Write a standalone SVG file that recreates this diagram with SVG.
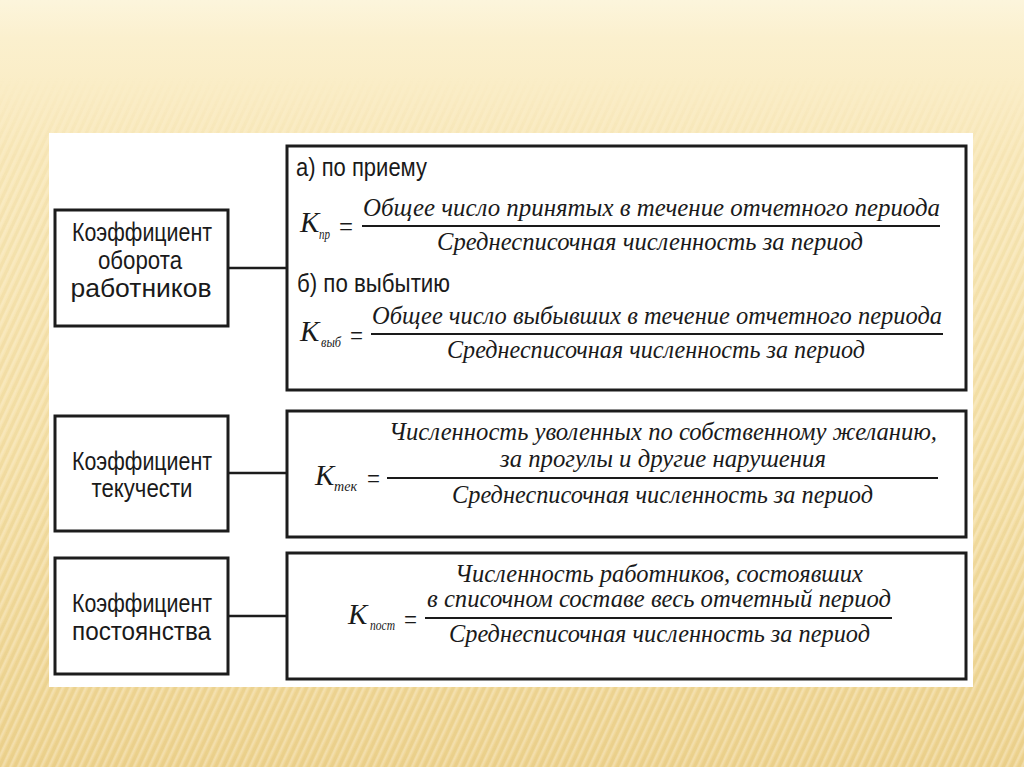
<svg xmlns="http://www.w3.org/2000/svg" width="1024" height="767" viewBox="0 0 1024 767">
<defs>
<linearGradient id="bg" x1="0" y1="0" x2="0" y2="1">
<stop offset="0" stop-color="#FCF5DC"/>
<stop offset="0.05" stop-color="#FBF0CE"/>
<stop offset="0.2" stop-color="#F9E9BC"/>
<stop offset="0.6" stop-color="#F6E2AC"/>
<stop offset="1" stop-color="#EFD594"/>
</linearGradient>
<linearGradient id="fade" x1="0" y1="0" x2="0" y2="1">
<stop offset="0" stop-color="#000"/>
<stop offset="0.1" stop-color="#000"/>
<stop offset="0.3" stop-color="#fff" stop-opacity="0.6"/>
<stop offset="1" stop-color="#fff"/>
</linearGradient>
<mask id="m"><rect width="1024" height="767" fill="url(#fade)"/></mask>
<pattern id="stripes" patternUnits="userSpaceOnUse" width="7" height="7" patternTransform="rotate(25)">
<rect x="0" y="0" width="3" height="7" fill="#D9B866" fill-opacity="0.2"/>
<rect x="3.5" y="0" width="2" height="7" fill="#FFFFFF" fill-opacity="0.25"/>
</pattern>
<style>
.box{fill:#fff;stroke:#1c1c1c;stroke-width:3}
.con{stroke:#1c1c1c;stroke-width:2.5;fill:none}
.lbl{font-family:"Liberation Sans","DejaVu Sans",sans-serif;font-size:25px;fill:#1a1a1a}
.f{font-family:"Liberation Serif","DejaVu Serif",serif;font-style:italic;font-size:25px;fill:#1a1a1a}
.k{font-family:"Liberation Serif","DejaVu Serif",serif;font-style:italic;font-size:29px;fill:#1a1a1a}
.s{font-family:"Liberation Serif","DejaVu Serif",serif;font-style:italic;font-size:15px;fill:#1a1a1a}
.eq{font-family:"Liberation Serif","DejaVu Serif",serif;font-size:28px;fill:#1a1a1a}
.bar{stroke:#1a1a1a;stroke-width:1.8}
</style>
</defs>
<rect width="1024" height="767" fill="url(#bg)"/>
<rect width="1024" height="767" fill="url(#stripes)" mask="url(#m)"/>
<rect x="49" y="133" width="924" height="554" fill="#fff"/>

<g id="connectors">
<line class="con" x1="228" y1="268" x2="287" y2="268"/>
<line class="con" x1="228" y1="473" x2="287" y2="473"/>
<line class="con" x1="228" y1="616" x2="287" y2="616"/>
</g>

<g id="node-oborot">
<rect class="box" x="55" y="210" width="173" height="116"/>
<text class="lbl" x="142" y="241" text-anchor="middle" textLength="140" lengthAdjust="spacingAndGlyphs">Коэффициент</text>
<text class="lbl" x="140" y="269" text-anchor="middle" textLength="84" lengthAdjust="spacingAndGlyphs">оборота</text>
<text class="lbl" x="141" y="297" text-anchor="middle" textLength="141" lengthAdjust="spacingAndGlyphs">работников</text>
</g>

<g id="node-tekuch">
<rect class="box" x="55" y="416" width="173" height="115"/>
<text class="lbl" x="142" y="470" text-anchor="middle" textLength="140" lengthAdjust="spacingAndGlyphs">Коэффициент</text>
<text class="lbl" x="142" y="497" text-anchor="middle" textLength="101" lengthAdjust="spacingAndGlyphs">текучести</text>
</g>

<g id="node-postoyan">
<rect class="box" x="55" y="558" width="173" height="116"/>
<text class="lbl" x="142" y="612" text-anchor="middle" textLength="140" lengthAdjust="spacingAndGlyphs">Коэффициент</text>
<text class="lbl" x="141.5" y="640" text-anchor="middle" textLength="139" lengthAdjust="spacingAndGlyphs">постоянства</text>
</g>

<g id="formula-oborot">
<rect class="box" x="287" y="146" width="679" height="244"/>
<text class="lbl" x="296" y="176" textLength="131" lengthAdjust="spacingAndGlyphs">а) по приему</text>
<text class="k" x="300" y="232">K</text>
<text class="s" x="319" y="239" textLength="11" lengthAdjust="spacingAndGlyphs">пр</text>
<text class="eq" x="339" y="236" textLength="14" lengthAdjust="spacingAndGlyphs">=</text>
<text class="f" x="363" y="216" textLength="577" lengthAdjust="spacingAndGlyphs">Общее число принятых в течение отчетного периода</text>
<line class="bar" x1="362" y1="226" x2="940" y2="226"/>
<text class="f" x="437" y="250" textLength="426" lengthAdjust="spacingAndGlyphs">Среднесписочная численность за период</text>
<text class="lbl" x="297" y="292" textLength="153" lengthAdjust="spacingAndGlyphs">б) по выбытию</text>
<text class="k" x="300" y="341">K</text>
<text class="s" x="321" y="347" textLength="20" lengthAdjust="spacingAndGlyphs">выб</text>
<text class="eq" x="350" y="345" textLength="13" lengthAdjust="spacingAndGlyphs">=</text>
<text class="f" x="372" y="324" textLength="570" lengthAdjust="spacingAndGlyphs">Общее число выбывших в течение отчетного периода</text>
<line class="bar" x1="371" y1="334" x2="943" y2="334"/>
<text class="f" x="447" y="358" textLength="418" lengthAdjust="spacingAndGlyphs">Среднесписочная численность за период</text>
</g>

<g id="formula-tekuch">
<rect class="box" x="287" y="411" width="679" height="126"/>
<text class="f" x="389" y="440" textLength="548" lengthAdjust="spacingAndGlyphs">Численность уволенных по собственному желанию,</text>
<text class="f" x="500" y="467" textLength="326" lengthAdjust="spacingAndGlyphs">за прогулы и другие нарушения</text>
<text class="k" x="315" y="485">K</text>
<text class="s" x="334" y="491" textLength="23" lengthAdjust="spacingAndGlyphs">тек</text>
<text class="eq" x="367" y="488" textLength="13" lengthAdjust="spacingAndGlyphs">=</text>
<line class="bar" x1="387" y1="478" x2="938" y2="478"/>
<text class="f" x="452" y="503" textLength="421" lengthAdjust="spacingAndGlyphs">Среднесписочная численность за период</text>
</g>

<g id="formula-postoyan">
<rect class="box" x="287" y="553" width="679" height="126"/>
<text class="f" x="455" y="582" textLength="408" lengthAdjust="spacingAndGlyphs">Численность работников, состоявших</text>
<text class="f" x="427" y="607" textLength="464" lengthAdjust="spacingAndGlyphs">в списочном составе весь отчетный период</text>
<text class="k" x="348" y="624">K</text>
<text class="s" x="370" y="630" textLength="25" lengthAdjust="spacingAndGlyphs">пост</text>
<text class="eq" x="404" y="629" textLength="13" lengthAdjust="spacingAndGlyphs">=</text>
<line class="bar" x1="425" y1="618" x2="892" y2="618"/>
<text class="f" x="449" y="642" textLength="421" lengthAdjust="spacingAndGlyphs">Среднесписочная численность за период</text>
</g>
</svg>
